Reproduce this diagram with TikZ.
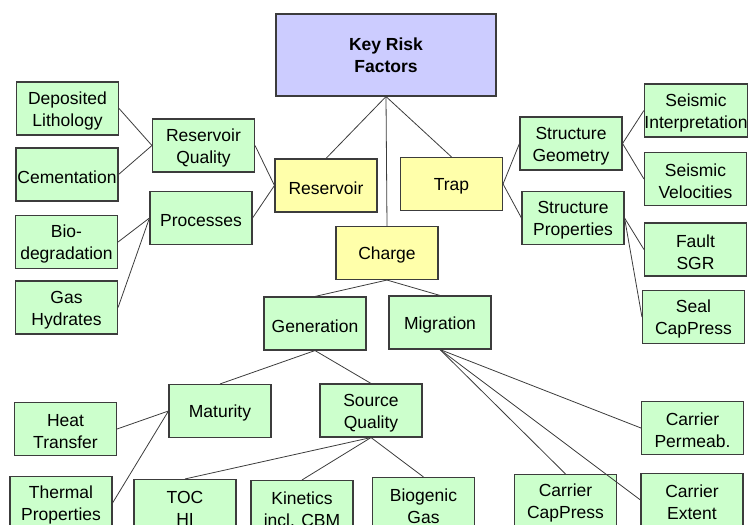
\documentclass[tikz,border=0pt]{standalone}
\usepackage{fontspec}
\setmainfont{Liberation Sans}
\definecolor{keyblue}{RGB}{204,204,255}
\definecolor{riskyellow}{RGB}{255,255,170}
\definecolor{facgreen}{RGB}{204,255,204}
\definecolor{edgegray}{RGB}{60,60,60}

\begin{document}
\begin{tikzpicture}[x=1pt,y=-1pt,font=\fontsize{17.5}{22}\selectfont,line width=1.1pt]

	\tikzset{node key/.style={draw=edgegray,
			fill=keyblue, minimum width=220pt, minimum height=82pt,
			inner sep=0pt, align=center,
			font=\fontsize{17.5}{22}\selectfont\bfseries}}
	\tikzset{node risk/.style={draw=edgegray,
			fill=riskyellow, minimum width=102pt, minimum height=53pt,
			inner sep=0pt, align=center, text height=17.5pt}}
	\tikzset{node fac/.style={draw=edgegray,
			fill=facgreen, minimum width=102pt, minimum height=53pt,
			inner sep=0pt, align=center, text height=17.5pt}}
	\tikzset{two line/.style={text height=39.5pt}}

	\clip (0,0) rectangle (748,525);

	\node[node key] (KRF) at (386,55) {Key Risk\\Factors};
	\node[node risk] (Res) at (326,185.5) {Reservoir};
	\node[node risk] (Trap) at (451.5,184) {Trap};
	\node[node risk] (Chg) at (387,253) {Charge};

	% reservoir side
	\node[node fac, two line] (ResQ) at (203.5,145.5) {Reservoir\\Quality};
	\node[node fac] (Proc) at (201,218) {Processes};
	\node[node fac, two line] (DepL) at (67.5,108.5) {Deposited\\Lithology};
	\node[node fac] (Cem) at (67,174.5) {Cementation};
	\node[node fac, two line] (BioD) at (66.5,242) {Bio-\\degradation};
	\node[node fac, two line] (GasH) at (66.5,307.5) {Gas\\Hydrates};

	% trap side
	\node[node fac, two line] (StrG) at (571,143.5) {Structure\\Geometry};
	\node[node fac, two line] (StrP) at (573,218) {Structure\\Properties};
	\node[node fac, two line] (SeiI) at (696,110.5) {Seismic\\Interpretation};
	\node[node fac, two line] (SeiV) at (695.5,179) {Seismic\\Velocities};
	\node[node fac, two line] (FltS) at (695.5,249.5) {Fault\\SGR};
	\node[node fac, two line] (SealC) at (693.5,317) {Seal\\CapPress};

	% charge side
	\node[node fac] (Gen) at (315,323.5) {Generation};
	\node[node fac] (Mig) at (440,322.5) {Migration};
	\node[node fac] (Mat) at (220,411) {Maturity};
	\node[node fac, two line] (SrcQ) at (371,410.5) {Source\\Quality};
	\node[node fac, two line] (HeatT) at (65.5,429) {Heat\\Transfer};
	\node[node fac, two line] (ThmP) at (61,503) {Thermal\\Properties};
	\node[node fac, two line] (TOC) at (185,506) {TOC\\HI};
	\node[node fac, two line] (Kin) at (302,507) {Kinetics\\incl. CBM};
	\node[node fac, two line] (Bio) at (423.5,504) {Biogenic\\Gas};
	\node[node fac, two line] (CarC) at (565.5,501) {Carrier\\CapPress};
	\node[node fac, two line] (CarP) at (692.5,428) {Carrier\\Permeab.};
	\node[node fac, two line] (CarE) at (692,500) {Carrier\\Extent};

	\draw[draw=edgegray, line width=0.8pt]
	(KRF.south) edge (Res.north)
	(KRF.south) edge (Trap.north)
	(KRF.south) edge (Chg.north)
	(Res.west) edge (ResQ.east)
	(Res.west) edge (Proc.east)
	(ResQ.west) edge (DepL.east)
	(ResQ.west) edge (Cem.east)
	(Proc.west) edge (BioD.east)
	(Proc.west) edge (GasH.east)
	(Trap.east) edge (StrG.west)
	(Trap.east) edge (StrP.west)
	(StrG.east) edge (SeiI.west)
	(StrG.east) edge (SeiV.west)
	(StrP.east) edge (FltS.west)
	(StrP.east) edge (SealC.west)
	(Chg.south) edge (Gen.north)
	(Chg.south) edge (Mig.north)
	(Gen.south) edge (Mat.north)
	(Gen.south) edge (SrcQ.north)
	(Mat.west) edge (HeatT.east)
	(Mat.west) edge (ThmP.east)
	(SrcQ.south) edge (TOC.north)
	(SrcQ.south) edge (Kin.north)
	(SrcQ.south) edge (Bio.north)
	(Mig.south) edge (CarC.north)
	(Mig.south) edge (CarP.west)
	(Mig.south) edge (CarE.west);
\end{tikzpicture}
\end{document}
